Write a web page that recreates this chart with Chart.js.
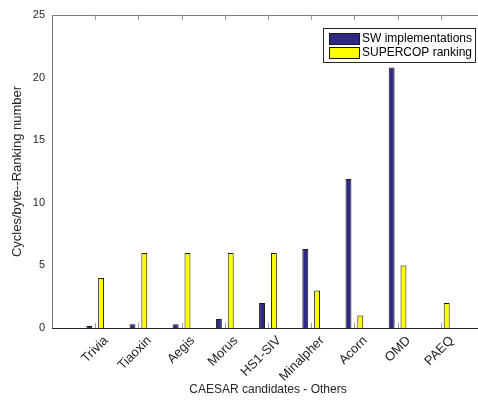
<!DOCTYPE html>
<html>
<head>
<meta charset="utf-8">
<script src="https://cdn.jsdelivr.net/npm/chart.js@4/dist/chart.umd.min.js"></script>
<style>
  html, body { margin: 0; padding: 0; background: #fff; overflow: hidden; }
  canvas { display: block; }
</style>
</head>
<body>
<canvas id="chart" width="500" height="408"></canvas>
<script>
// CAESAR candidates and their measured values
const candidates = ['Trivia', 'Tiaoxin', 'Aegis', 'Morus', 'HS1-SIV', 'Minalpher', 'Acorn', 'OMD', 'PAEQ'];
const swCycles = [0.16, 0.3, 0.3, 0.72, 2.0, 6.3, 11.9, 20.8, 0];
const supercopRank = [4, 6, 6, 6, 6, 3, 1, 5, 2];
const yTickValues = [0, 5, 10, 15, 20, 25];
const seriesNames = ['SW implementations', 'SUPERCOP ranking'];
const seriesColors = ['#2e2a84', '#ffff00'];

// x runs from 0 to 10 with the candidates at 1..9, so pad both ends
const labels = ['', ...candidates, ''];
const pad = arr => [null, ...arr, null];

Chart.defaults.font.family = '"Liberation Sans", Arial, Helvetica, sans-serif';
Chart.defaults.color = '#262626';

// Box axes with inward ticks, plus a boxed legend inside the plot
const boxAxes = {
  id: 'boxAxes',
  afterDatasetsDraw(chart) {
    const { ctx, chartArea: a, scales } = chart;
    const x = scales.x;
    ctx.save();
    ctx.lineWidth = 1;
    // left and top edges
    ctx.strokeStyle = '#7a7a7a';
    ctx.beginPath();
    ctx.moveTo(a.left + 0.5, a.bottom);
    ctx.lineTo(a.left + 0.5, a.top + 0.5);
    ctx.lineTo(a.right, a.top + 0.5);
    ctx.stroke();
    // inward category ticks on bottom and top
    ctx.strokeStyle = '#9a9a9a';
    ctx.beginPath();
    for (let i = 1; i <= candidates.length; i++) {
      const px = Math.round(x.getPixelForValue(i)) + 0.5;
      ctx.moveTo(px, a.bottom);
      ctx.lineTo(px, a.bottom - 5);
      ctx.moveTo(px, a.top);
      ctx.lineTo(px, a.top + 5);
    }
    ctx.stroke();
    // bottom edge
    ctx.strokeStyle = '#262626';
    ctx.beginPath();
    ctx.moveTo(a.left, a.bottom + 0.5);
    ctx.lineTo(a.right, a.bottom + 0.5);
    ctx.stroke();

    // legend
    const lx = a.left + 271, ly = a.top + 13, lw = 152, lh = 34;
    ctx.fillStyle = '#ffffff';
    ctx.fillRect(lx, ly, lw, lh);
    ctx.strokeStyle = '#262626';
    ctx.strokeRect(lx + 0.5, ly + 0.5, lw, lh);
    ctx.font = '12px "Liberation Sans", Arial, sans-serif';
    ctx.textBaseline = 'middle';
    ctx.textAlign = 'left';
    chart.data.datasets.forEach((ds, i) => {
      const sy = ly + 5 + i * 14;
      ctx.fillStyle = ds.backgroundColor;
      ctx.fillRect(lx + 6, sy, 30, 11);
      ctx.strokeStyle = '#1a1a1a';
      ctx.strokeRect(lx + 6.5, sy + 0.5, 30, 11);
      ctx.fillStyle = '#000000';
      ctx.fillText(ds.label, lx + 39, sy + 6);
    });
    ctx.restore();
  }
};

new Chart(document.getElementById('chart'), {
  type: 'bar',
  data: {
    labels: labels,
    datasets: [
      {
        label: seriesNames[0],
        data: pad(swCycles),
        backgroundColor: seriesColors[0],
        borderColor: '#1a1a1a',
        borderWidth: 1
      },
      {
        label: seriesNames[1],
        data: pad(supercopRank),
        backgroundColor: seriesColors[1],
        borderColor: '#1a1a1a',
        borderWidth: 1
      }
    ]
  },
  options: {
    responsive: false,
    animation: false,
    layout: { padding: { top: 15, right: 9, left: 0, bottom: 0 } },
    datasets: {
      bar: { categoryPercentage: 0.547, barPercentage: 0.5 }
    },
    plugins: {
      legend: { display: false },
      tooltip: { enabled: false }
    },
    scales: {
      x: {
        type: 'category',
        offset: false,
        grid: { display: false, drawTicks: false },
        border: { display: false },
        ticks: {
          autoSkip: false,
          maxRotation: 45,
          minRotation: 45,
          padding: 5,
          labelOffset: 11,
          font: { size: 13 },
          color: '#262626'
        },
        title: {
          display: true,
          text: 'CAESAR candidates - Others',
          font: { size: 12 },
          color: '#262626',
          padding: { top: 0, bottom: 11 }
        },
        afterFit(scale) { scale.height = 80; }
      },
      y: {
        min: 0,
        max: 25,
        grid: { display: false, drawTicks: false },
        border: { display: false },
        afterBuildTicks(scale) { scale.ticks = yTickValues.map(v => ({ value: v })); },
        ticks: { padding: 7, font: { size: 11 }, color: '#262626' },
        title: {
          display: true,
          text: 'Cycles/byte--Ranking number',
          font: { size: 13 },
          color: '#262626',
          padding: { top: 10, bottom: 0 }
        },
        afterFit(scale) { scale.width = 52; }
      }
    }
  },
  plugins: [boxAxes]
});
</script>
</body>
</html>
